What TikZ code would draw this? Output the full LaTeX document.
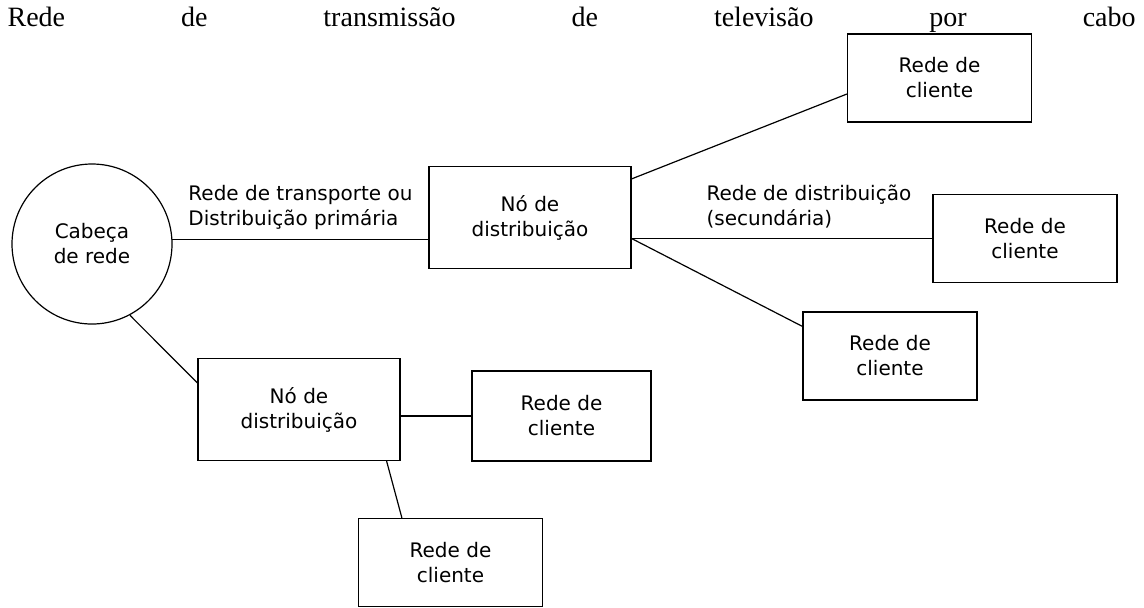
\documentclass[tikz,border=0pt]{standalone}
\usepackage{fontspec}
\setmainfont{DejaVu Sans}
\newfontfamily\fonteTitulo{Liberation Serif}
\usetikzlibrary{positioning}
\begin{document}
\begin{tikzpicture}[
  on grid,
  line width=0.6pt,
  every node/.append style = {font=\fontsize{10}{12.5}\selectfont},
  block/.style = {
    draw,
    shape=rectangle,
    minimum width=101pt,
    minimum height=51pt,
    align=center
  },
  cliente/.style = {
    block,
    minimum width=92pt,
    minimum height=44pt
  },
  cabeca/.style = {
    draw,
    shape=circle,
    minimum size=80pt,
    align=center
  },
]
  \useasboundingbox (0,0) rectangle (572pt,-303.5pt);

  \node (titulo)[
    anchor=base west,
    inner sep=0pt,
    font=\fonteTitulo\fontsize{14}{16}\selectfont
  ] at (3.5pt,-13pt) {\makebox[564pt][s]{Rede\hfill de\hfill transmissão\hfill de\hfill televisão\hfill por\hfill cabo}};

  \node (cabeca)[cabeca] at (46pt,-122pt) {Cabeça\\de rede};
  \node (distA)[
    above right=13.25pt and 219pt of cabeca,
    block
  ] {Nó de\\distribuição};
  \node (clienteA)[
    above right=69.75pt and 204.75pt of distA,
    cliente
  ] {Rede de\\cliente};
  \node (clienteB)[
    below right=10.5pt and 247.5pt of distA,
    cliente
  ] {Rede de\\cliente};
  \node (clienteC)[
    below right=69.25pt and 180pt of distA,
    cliente,
    minimum width=87pt
  ] {Rede de\\cliente};
  \node (distB)[
    below right=82.75pt and 103.5pt of cabeca,
    block
  ] {Nó de\\distribuição};
  \node (clienteD)[
    below right=3.25pt and 131.25pt of distB,
    cliente,
    minimum width=89.5pt,
    minimum height=45pt
  ] {Rede de\\cliente};
  \node (clienteE)[
    below right=76.5pt and 75.75pt of distB,
    cliente
  ] {Rede de\\cliente};

  \draw (cabeca.3) -- (cabeca.3 -| distA.west)
    node[above,midway,align=left,yshift=1.5pt] {Rede de transporte ou\\Distribuição primária};
  \draw ([yshift=-6.5pt]distA.north east) -- ([yshift=-8pt]clienteA.west);
  \draw (distA.east |- clienteB.west) -- (clienteB.west)
    node[above right,pos=0.225,align=left,yshift=1.5pt] {Rede de distribuição\\(secundária)};
  \draw (distA.east |- clienteB.west) -- ([yshift=-7.5pt]clienteC.north west);
  \draw (cabeca.-62) -- ([yshift=-12.5pt]distB.north west);
  \draw (distB.east |- clienteD.west) -- (clienteD.west);
  \draw ([xshift=-7pt]distB.south east) -- ([xshift=22pt]clienteE.north west);
\end{tikzpicture}
\end{document}
